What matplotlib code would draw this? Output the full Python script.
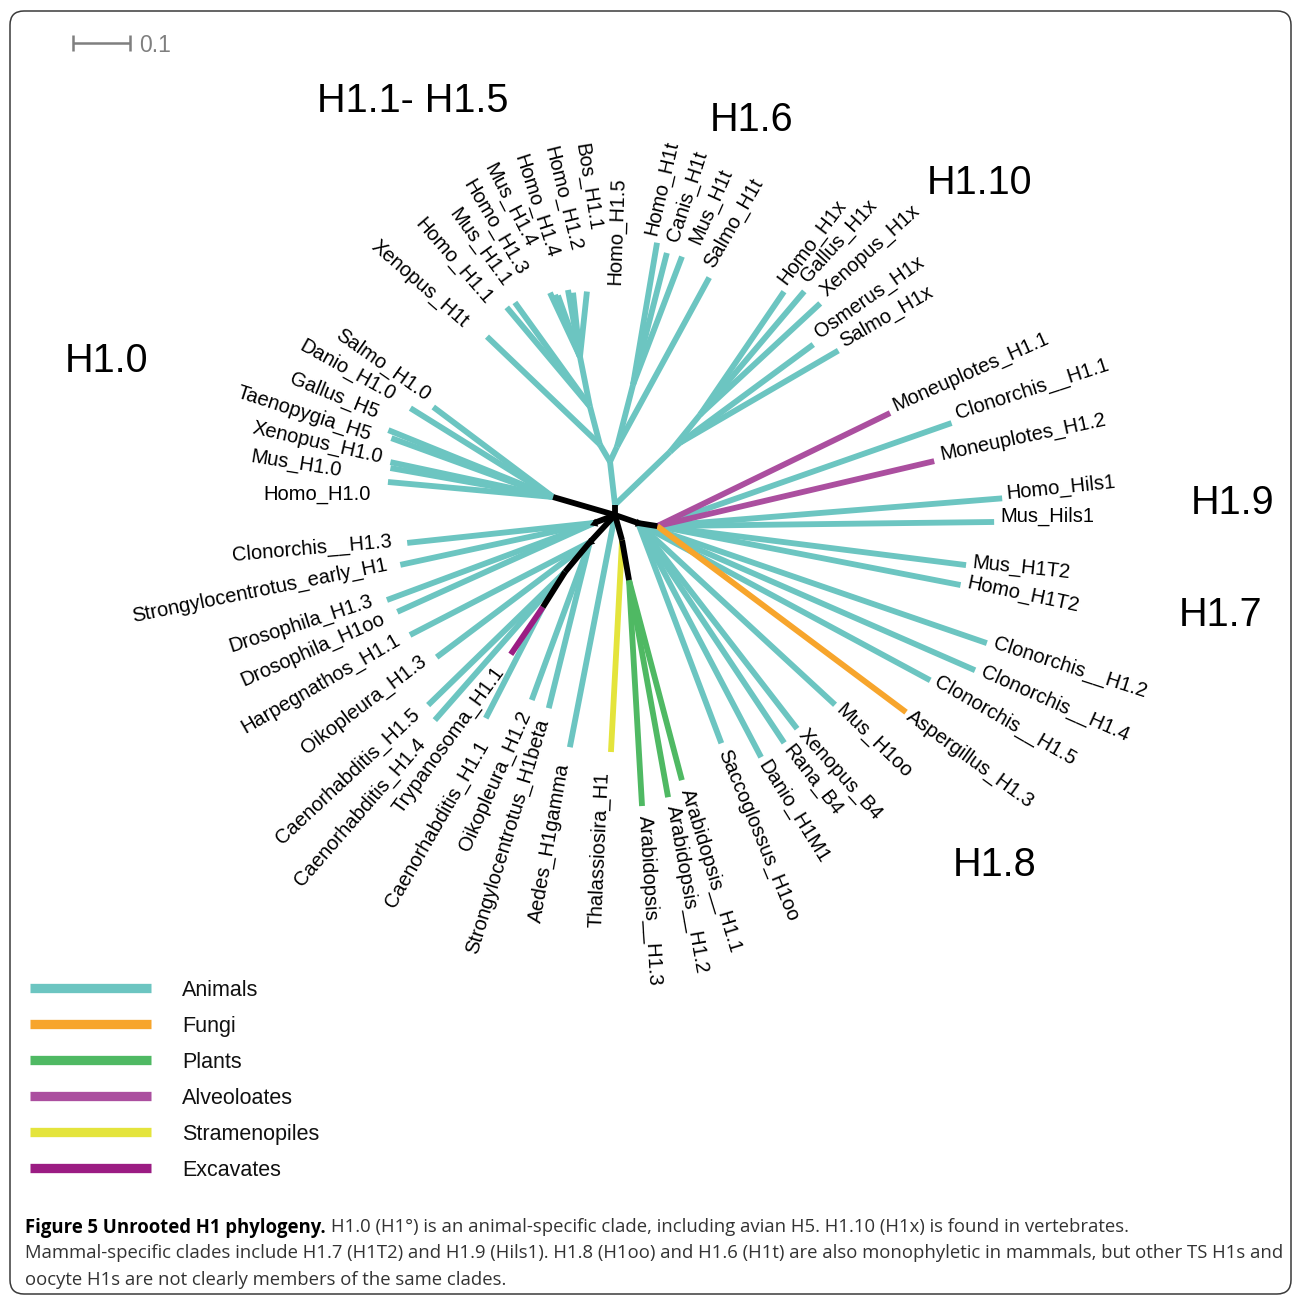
import numpy as np
import matplotlib.pyplot as plt
from matplotlib.patches import FancyBboxPatch

plt.rcParams['font.family'] = ['Liberation Sans', 'DejaVu Sans']

W, H = 1293, 1296
PX_PER_SUB = 570.0          # 0.1 substitutions == 57 px (see scale bar)
ROOT = (615.0, 515.0)       # where the unrooted centre sits on the page

# ---- tree: node, parent, layout angle (deg, ccw from east), branch length, group
node_names = [
    'n_A', 'n_B', 'n_D', 'n_G', 'n_G1', 'n_G2', 'n_F', 'n_F1', 'n_E', 'n_E1', 'n_E2',
    'n_H', 'n_I', 'n_J', 'n_K', 'n_L', 'n_M', 'n_N', 'n_O',
    # H1.0
    'Salmo_H1.0', 'Danio_H1.0', 'Gallus_H5', 'Taenopygia_H5', 'Xenopus_H1.0', 'Mus_H1.0', 'Homo_H1.0',
    # H1.1 - H1.5
    'Xenopus_H1t', 'Homo_H1.1', 'Mus_H1.1', 'Homo_H1.3', 'Mus_H1.4', 'Homo_H1.4', 'Homo_H1.2',
    'Bos_H1.1', 'Homo_H1.5',
    # H1.6
    'Homo_H1t', 'Canis_H1t', 'Mus_H1t', 'Salmo_H1t',
    # H1.10
    'Homo_H1x', 'Gallus_H1x', 'Xenopus_H1x', 'Osmerus_H1x', 'Salmo_H1x',
    # right side
    'Moneuplotes_H1.1', 'Clonorchis__H1.1', 'Moneuplotes_H1.2', 'Homo_Hils1', 'Mus_Hils1',
    'Mus_H1T2', 'Homo_H1T2', 'Aspergillus_H1.3',
    'Clonorchis__H1.2', 'Clonorchis__H1.4', 'Clonorchis__H1.5', 'Mus_H1oo', 'Xenopus_B4',
    'Rana_B4', 'Danio_H1M1', 'Saccoglossus_H1oo',
    'Arabidopsis__H1.1', 'Arabidopsis__H1.2', 'Arabidopsis__H1.3',
    'Thalassiosira_H1', 'Aedes_H1gamma',
    'Strongylocentrotus_H1beta', 'Oikopleura_H1.2', 'Oikopleura_H1.3', 'Harpegnathos_H1.1',
    'Caenorhabditis_H1.4', 'Caenorhabditis_H1.5', 'Caenorhabditis_H1.1', 'Trypanosoma_H1.1',
    'Drosophila_H1oo', 'Drosophila_H1.3', 'Strongylocentrotus_early_H1', 'Clonorchis__H1.3',
]
node_parents = [
    'root', 'root', 'n_B', 'n_D', 'n_G', 'n_G1', 'n_D', 'n_F', 'n_B', 'n_E', 'n_E',
    'root', 'root', 'n_I', 'n_J', 'root', 'n_L', 'root', 'n_N',
    'n_A', 'n_A', 'n_A', 'n_A', 'n_A', 'n_A', 'n_A',
    'n_G', 'n_G1', 'n_G1', 'n_G2', 'n_G2', 'n_G2', 'n_G2', 'n_G2', 'n_G2',
    'n_F1', 'n_F1', 'n_F1', 'n_F',
    'n_E1', 'n_E1', 'n_E1', 'n_E2', 'n_E2',
    'n_O', 'n_O', 'n_O', 'n_O', 'n_O', 'n_O', 'n_O', 'n_O',
    'n_N', 'n_N', 'n_N', 'n_N', 'n_N', 'n_N', 'n_N', 'n_N',
    'n_M', 'n_M', 'n_M',
    'n_L', 'root',
    'n_I', 'n_I', 'n_I', 'n_I',
    'n_J', 'n_J', 'n_K', 'n_K',
    'n_H', 'n_H', 'n_H', 'n_H',
]
node_angles = [
    163.8, 90.0, 96.6, 120.5, 104.7, 101.3, 65.0, 75.5, 43.9, 51.0, 42.0,
    200.9, 227.2, 230.2, 237.8, -74.4, -80.1, -19.2, -9.0,
    143.1, 148.1, 157.9, 160.0, 167.9, 169.9, 174.8,
    136.3, 130.0, 125.8, 115.1, 112.0, 109.8, 100.2, 96.2, 83.9,
    80.4, 75.6, 69.1, 61.4,
    55.7, 49.8, 42.8, 36.4, 30.2,
    25.9, 19.3, 13.2, 4.6, 0.7, -7.2, -11.0, -36.8,
    -19.0, -23.6, -28.3, -42.7, -52.3, -56.4, -62.3, -69.3,
    -75.2, -79.8, -86.7,
    -93.0, -101.0,
    256.1, 249.8, 216.9, 207.3,
    228.7, 224.2, 242.8, 235.8,
    204.3, 200.4, 192.2, 186.1,
]
node_lengths = [
    0.113, 0.018, 0.076, 0.035, 0.069, 0.089, 0.029, 0.112, 0.134, 0.084, 0.024,
    0.039, 0.065, 0.068, 0.073, 0.046, 0.071, 0.043, 0.034,
    0.263, 0.295, 0.312, 0.302, 0.292, 0.290, 0.291,
    0.274, 0.227, 0.225, 0.124, 0.117, 0.114, 0.119, 0.113, 0.115,
    0.253, 0.239, 0.241, 0.338,
    0.261, 0.283, 0.287, 0.290, 0.321,
    0.454, 0.547, 0.499, 0.607, 0.591, 0.546, 0.542, 0.545,
    0.647, 0.645, 0.582, 0.470, 0.456, 0.463, 0.464, 0.413,
    0.363, 0.387, 0.397,
    0.372, 0.415,
    0.300, 0.295, 0.336, 0.355,
    0.346, 0.335, 0.219, 0.100,
    0.379, 0.388, 0.348, 0.330,
]
node_groups = (
    ['stem', 'stem'] + ['Animals'] * 9 + ['stem'] * 8
    + ['Animals'] * 25
    + ['Alveoloates', 'Animals', 'Alveoloates', 'Animals', 'Animals', 'Animals', 'Animals', 'Fungi']
    + ['Animals'] * 8
    + ['Plants'] * 3
    + ['Stramenopiles', 'Animals']
    + ['Animals'] * 4
    + ['Animals', 'Animals', 'Animals', 'Excavates']
    + ['Animals'] * 4
)

legend_groups = ['Animals', 'Fungi', 'Plants', 'Alveoloates', 'Stramenopiles', 'Excavates']
group_colors = {
    'Animals': '#6cc5c1', 'Fungi': '#f7a52c', 'Plants': '#4fb963',
    'Alveoloates': '#ab4f9f', 'Stramenopiles': '#e4e43c', 'Excavates': '#9b1c83',
    'stem': '#000000',
}

clade_names = ['H1.1- H1.5', 'H1.6', 'H1.10', 'H1.0', 'H1.9', 'H1.7', 'H1.8']

# label layout: text angle (deg) and nudge of the anchor from the tip (px)
label_layout = {
    'Salmo_H1.0': (145, -6, -14), 'Danio_H1.0': (151, -18, -15), 'Gallus_H5': (158, -13, -20),
    'Taenopygia_H5': (162, -23, -6), 'Xenopus_H1.0': (167, -10, -7), 'Mus_H1.0': (171, -52, 0),
    'Homo_H1.0': (180, -20, 10),
    'Xenopus_H1t': (139, -22, -16), 'Homo_H1.1': (131, -18, -9), 'Mus_H1.1': (126, -8, -22),
    'Homo_H1.3': (120.6, -27, -23), 'Mus_H1.4': (117.5, -23, -53), 'Homo_H1.4': (108, -4, -42),
    'Homo_H1.2': (104, 9, -43), 'Bos_H1.1': (99, 23, -65), 'Homo_H1.5': (88, 26, -7),
    'Homo_H1t': (77, -8, -8), 'Canis_H1t': (72, 4, -13), 'Mus_H1t': (66, 11, -14),
    'Salmo_H1t': (60, -2, -12),
    'Homo_H1x': (53, -4, -11), 'Gallus_H1x': (48, -2, -13), 'Xenopus_H1x': (42, 2, -12),
    'Osmerus_H1x': (35, 2, -12), 'Salmo_H1x': (30, 2, -10),
    'Moneuplotes_H1.1': (24, 3, -9), 'Clonorchis__H1.1': (18, 4, -11),
    'Moneuplotes_H1.2': (12, 6, -9), 'Homo_Hils1': (6, 4, -7), 'Mus_Hils1': (0, 6, -8),
    'Mus_H1T2': (-6, 7, -5), 'Homo_H1T2': (-12, 7, -4),
    'Clonorchis__H1.2': (-18, 8, -2), 'Clonorchis__H1.4': (-24, 8, -1),
    'Clonorchis__H1.5': (-30, 7, -2), 'Aspergillus_H1.3': (-36, 4, 0),
    'Mus_H1oo': (-44, 5, 1), 'Xenopus_B4': (-48, 6, 2), 'Rana_B4': (-52, 4, 3),
    'Danio_H1M1': (-58, 3, 4), 'Saccoglossus_H1oo': (-67.5, 4, 6),
    'Arabidopsis__H1.1': (-73, 6, 8), 'Arabidopsis__H1.2': (-80, 6, 8),
    'Arabidopsis__H1.3': (-86.5, 5, 9),
    'Thalassiosira_H1': (267.5, -11, 23), 'Aedes_H1gamma': (260, -9, 19),
    'Strongylocentrotus_H1beta': (253, -8, 13), 'Oikopleura_H1.2': (246, -9, 14),
    'Caenorhabditis_H1.1': (240, -5, 26), 'Trypanosoma_H1.1': (234, -14, 16),
    'Caenorhabditis_H1.4': (229, -16, 21), 'Caenorhabditis_H1.5': (223, -15, 7),
    'Oikopleura_H1.3': (217, -16, 2), 'Harpegnathos_H1.1': (210, -15, 3),
    'Drosophila_H1oo': (204, -17, 5), 'Drosophila_H1.3': (198, -18, -1),
    'Strongylocentrotus_early_H1': (191.5, -16, -2), 'Clonorchis__H1.3': (185, -19, -3),
}
clade_pos = {
    'H1.1- H1.5': (413, 112), 'H1.6': (752, 131), 'H1.10': (980, 194), 'H1.0': (106, 372),
    'H1.9': (1233, 514), 'H1.7': (1221, 626), 'H1.8': (995, 876),
}
# black stems that end in a small arrow-like join in the original drawing
arrow_nodes = ['n_H', 'n_I', 'n_N']

fig = plt.figure(figsize=(W / 100, H / 100), dpi=100)
ax = fig.add_axes([0, 0, 1, 1])
ax.set_xlim(0, W)
ax.set_ylim(H, 0)
ax.axis('off')

# node positions from angle + branch length
pos = {'root': ROOT}
for name, par, ang, ln in zip(node_names, node_parents, node_angles, node_lengths):
    a = np.radians(ang)
    px, py = pos[par]
    pos[name] = (px + ln * PX_PER_SUB * np.cos(a), py - ln * PX_PER_SUB * np.sin(a))

zord = {'Animals': 2, 'stem': 4}
for name, par, grp in zip(node_names, node_parents, node_groups):
    (x0, y0), (x1, y1) = pos[par], pos[name]
    ax.plot([x0, x1], [y0, y1], color=group_colors[grp], lw=4.2,
            solid_capstyle='butt', zorder=zord.get(grp, 3))

for name in arrow_nodes:
    ang = node_angles[node_names.index(name)]
    ax.plot(*pos[name], marker=(3, 0, ang - 90), ms=7, color='black', mew=0, zorder=4)

# leaf labels
for name in node_names:
    if name.startswith('n_'):
        continue
    ang, ddx, ddy = label_layout[name]
    tx, ty = pos[name]
    x, y = tx + ddx, ty + ddy
    if np.cos(np.radians(ang)) >= 0:
        rot, ha = ang, 'left'
    else:
        rot, ha = ang - 180, 'right'
        x += 3 * np.cos(np.radians(rot))
        y -= 3 * np.sin(np.radians(rot))
    ax.text(x, y, name, rotation=rot, rotation_mode='anchor', ha=ha,
            va='center_baseline', fontsize=14.5, color='black', zorder=5)

for cl in clade_names:
    cx, cy = clade_pos[cl]
    ax.text(cx, cy, cl, fontsize=28.5, ha='center', va='baseline', color='black')

# scale bar
bar = 0.1 * PX_PER_SUB
ax.plot([73, 73 + bar], [43, 43], color='#7f7f7f', lw=1.8, solid_capstyle='butt')
for bx in (73, 73 + bar):
    ax.plot([bx, bx], [35, 51], color='#7f7f7f', lw=1.8, solid_capstyle='butt')
ax.text(139, 43, '0.1', fontsize=16.5, color='#7f7f7f', ha='left', va='center_baseline')

# legend
for i, grp in enumerate(legend_groups):
    ly = 988 + i * 36
    ax.plot([30, 151], [ly, ly], color=group_colors[grp], lw=6.7, solid_capstyle='butt')
    ax.text(182, ly, grp, fontsize=15.5, ha='left', va='center_baseline', color='#111111')

# frame
frame = FancyBboxPatch((10, 11), 1281, 1283, boxstyle='round,pad=0,rounding_size=14',
                       fill=False, edgecolor='#3a3a3a', lw=1.1)
ax.add_patch(frame)

# caption
cap_bold = 'Figure 5 Unrooted H1 phylogeny.'
cap_rest = [
    'H1.0 (H1\u00b0) is an animal-specific clade, including avian H5. H1.10 (H1x) is found in vertebrates.',
    'Mammal-specific clades include H1.7 (H1T2) and H1.9 (Hils1). H1.8 (H1oo) and H1.6 (H1t) are also '
    'monophyletic in mammals, but other TS H1s and',
    'oocyte H1s are not clearly members of the same clades.',
]
renderer = fig.canvas.get_renderer()
t2 = ax.text(25, 1251, cap_rest[1], fontsize=12, family='Open Sans', color='#333333',
             ha='left', va='center_baseline')
fs = 12 * 1253 / t2.get_window_extent(renderer).width
t2.set_fontsize(fs)
tb = ax.text(25, 1225, cap_bold, fontsize=fs, family='Open Sans', weight='bold',
             color='black', ha='left', va='center_baseline')
wb = tb.get_window_extent(renderer).width
ax.text(25 + wb + 0.27 * fs * 100 / 72, 1225, cap_rest[0], fontsize=fs, family='Open Sans',
        color='#333333', ha='left', va='center_baseline')
ax.text(25, 1278, cap_rest[2], fontsize=fs, family='Open Sans', color='#333333',
        ha='left', va='center_baseline')

fig.savefig('out.png', dpi=100)
